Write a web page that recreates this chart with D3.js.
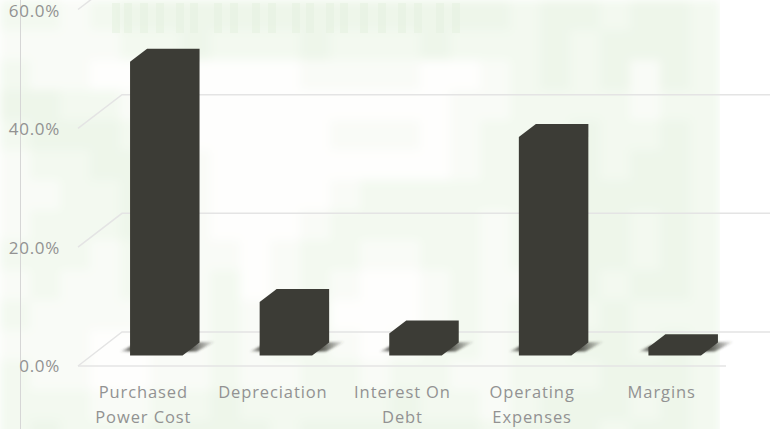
<!DOCTYPE html>
<html><head><meta charset="utf-8">
<script src="https://cdnjs.cloudflare.com/ajax/libs/d3/7.8.5/d3.min.js"></script>
<style>html,body{margin:0;padding:0;background:#fff}svg{display:block}text{font-family:"Open Sans",sans-serif;fill:#929292}</style>
</head><body><svg id="c" width="780" height="429"></svg>
<script>
const categories=[["Purchased","Power Cost"],["Depreciation"],["Interest On","Debt"],["Operating","Expenses"],["Margins"]];
const values=[49.5,9.0,3.7,36.8,1.4];
const yTicks=[0,20,40,60];
// coarse tint of the faint banknote backdrop (one digit per 30px cell)
const backdrop=[
"221233333333333332332332",
"111122322232223222323332",
"211001000011110012323132",
"332211000000000112222122",
"233322000001110122232232",
"122332100000000122232332",
"112233100001222222233332",
"122232100012222212333232",
"222122110122112212233232",
"121122120121001211232332",
"211111121220001212323222",
"111001121221012212233232",
"211001121122122112223332",
"222112232222232212333232",
"232223333233333323332332"];
// vertical stripes of the lettering along the banknote's top edge (x in px)
const lettering=[112,124,140,156,176,190,214,230,252,268,292,306,326,340,360,378,398,414,436,452];

const W=780,H=429,svg=d3.select("#c");
const depthX=17,depthY=13;
const frontBase=355.5;
const y=d3.scaleLinear().domain([0,20]).range([0,118.7]);
const yFront=d3.scaleLinear().domain([0,60]).range([366,9.5]);
const yLabel=d3.scaleLinear().domain([0,60]).range([366,11]);
const yBack=d3.scaleLinear().domain([0,60]).range([332,-24]);
const x=d3.scaleBand().domain(d3.range(categories.length)).range([91.5,739.5]).paddingInner(0).paddingOuter(0);
const barW=52.5;
const xc=i=>x(i)+x.bandwidth()/2;

const defs=svg.append("defs");
defs.append("filter").attr("id","bl").attr("x","-5%").attr("y","-5%").attr("width","110%").attr("height","110%")
  .append("feGaussianBlur").attr("stdDeviation",5);
defs.append("filter").attr("id","sb").attr("x","-30%").attr("y","-60%").attr("width","160%").attr("height","220%")
  .append("feGaussianBlur").attr("stdDeviation",1.3);
defs.append("clipPath").attr("id","bgclip").append("rect").attr("width",720).attr("height",H);
const g=defs.append("linearGradient").attr("id","sh");
[[0,.12],[.12,.8],[.72,.95],[1,0]].forEach(s=>g.append("stop").attr("offset",s[0]).attr("stop-color","#3c3c36").attr("stop-opacity",s[1]));

// backdrop
const tint=d3.scaleLinear().domain([0,3]).range(["#fefefd","#eef6ea"]);
const bg=svg.append("g").attr("clip-path","url(#bgclip)").append("g").attr("filter","url(#bl)");
const cells=backdrop.flatMap((r,j)=>r.split("").map((c,i)=>({i,j,v:+c})));
bg.selectAll("rect").data(cells).join("rect")
  .attr("x",d=>d.i*30).attr("y",d=>d.j*30).attr("width",30).attr("height",30).attr("fill",d=>tint(d.v));
svg.append("g").selectAll("rect").data(lettering).join("rect")
  .attr("x",d=>d).attr("y",3).attr("width",8).attr("height",30).attr("fill","#e6f1e1").attr("opacity",.6);

// value axis rule
svg.append("line").attr("x1",20.5).attr("x2",20.5).attr("y1",0).attr("y2",H).attr("stroke","#d6d6d6").attr("stroke-width",1);

// 3-D gridlines: wall lines and floor diagonals
const gridCol="#e4e4e4";
const grid=svg.append("g").attr("fill","none").attr("stroke",gridCol).attr("stroke-width",1.5);
grid.selectAll("path").data(yTicks).join("path")
  .attr("d",d=>`M78,${yFront(d)}L122,${yBack(d)}H770`);
grid.append("line").attr("x1",78).attr("x2",726).attr("y1",yFront(0)).attr("y2",yFront(0));

// shadows
svg.append("g").selectAll("path").data(values).join("path")
  .attr("filter","url(#sb)").attr("fill","url(#sh)")
  .attr("d",(d,i)=>{const a=xc(i)-barW/2,b=a+barW;return `M${a-10},${frontBase-4}L${a+2},${frontBase-10}L${b+33},${frontBase-14}L${b+14},${frontBase-4}Z`;});

// bars
svg.append("g").selectAll("path").data(values).join("path")
  .attr("fill","#3c3c36")
  .attr("d",(d,i)=>{const a=xc(i)-barW/2,b=a+barW,t=frontBase-y(d);
    return `M${a},${frontBase}V${t}L${a+depthX},${t-depthY}H${b+depthX}V${frontBase-depthY}L${b},${frontBase}Z`;});

// tick labels
svg.append("g").selectAll("text").data(yTicks).join("text")
  .attr("x",60).attr("y",d=>yLabel(d)).attr("dy","0.36em").attr("text-anchor","end")
  .attr("font-size",17).attr("letter-spacing",0.7)
  .text(d=>d3.format(".1f")(d)+"%");

// category labels
const cat=svg.append("g").selectAll("text").data(categories).join("text")
  .attr("text-anchor","middle").attr("font-size",16.5).attr("letter-spacing",0.9);
cat.selectAll("tspan").data((d,i)=>d.map((t,k)=>({t,k,i}))).join("tspan")
  .attr("x",d=>xc(d.i)-13).attr("y",d=>397.5+d.k*25.5).text(d=>d.t);
</script></body></html>
